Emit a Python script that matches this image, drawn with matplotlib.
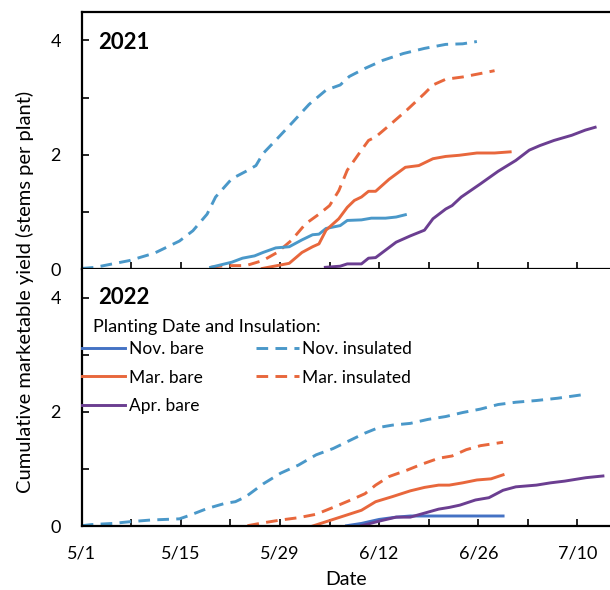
import matplotlib
matplotlib.use("Agg")
import matplotlib.pyplot as plt
from matplotlib.ticker import MultipleLocator, FixedLocator, FixedFormatter
from matplotlib.lines import Line2D

plt.rcParams['font.family'] = ['Lato', 'DejaVu Sans']

# days after May 1, cumulative stems per plant
# 2021
nov_ins_21_x = [0, 1.9, 6.8, 10.3, 13.8, 15.7, 17.7, 18.9, 21.2, 23.2, 24.6, 25.6, 27.6, 29.8,
                32.1, 34.5, 36.5, 37.8, 40.0, 42.5, 45.4, 48.4, 51.4, 53.8, 55.8]
nov_ins_21_y = [0.01, 0.03, 0.15, 0.28, 0.49, 0.67, 0.96, 1.26, 1.58, 1.71, 1.81, 2.02, 2.28, 2.57,
                2.88, 3.13, 3.22, 3.37, 3.51, 3.65, 3.77, 3.86, 3.93, 3.94, 3.98]
mar_ins_21_x = [18.2, 20.2, 23.2, 25.6, 27.6, 29.6, 31.6, 33.5, 35.0, 36.3, 37.5, 39.5, 40.5,
                41.5, 43.4, 45.9, 48.4, 49.6, 51.4, 53.8, 56.3, 58.3]
mar_ins_21_y = [0.03, 0.06, 0.06, 0.15, 0.29, 0.50, 0.79, 0.96, 1.11, 1.37, 1.73, 2.08, 2.25,
                2.31, 2.51, 2.78, 3.07, 3.22, 3.32, 3.36, 3.42, 3.47]
mar_bare_21_x = [25.5, 27.6, 29.3, 31.1, 32.6, 33.5, 34.5, 36.3, 37.5, 38.5, 39.5, 40.5, 41.5,
                 43.4, 45.7, 47.6, 49.6, 51.4, 53.3, 55.8, 58.3, 60.5]
mar_bare_21_y = [0.01, 0.06, 0.10, 0.29, 0.39, 0.44, 0.68, 0.88, 1.08, 1.20, 1.26, 1.36, 1.36,
                 1.57, 1.78, 1.81, 1.93, 1.97, 1.99, 2.03, 2.03, 2.05]
nov_bare_21_x = [18.2, 21.2, 22.7, 24.4, 25.6, 27.4, 29.3, 31.1, 32.6, 33.5, 34.5, 36.5, 37.5,
                 39.5, 40.9, 42.9, 44.4, 45.7]
nov_bare_21_y = [0.03, 0.12, 0.19, 0.23, 0.29, 0.37, 0.39, 0.51, 0.60, 0.61, 0.71, 0.76, 0.85,
                 0.86, 0.89, 0.89, 0.91, 0.95]
apr_bare_21_x = [34.4, 36.5, 37.5, 39.5, 40.5, 41.5, 44.4, 46.4, 48.4, 49.6, 51.4, 52.3, 53.6,
                 56.3, 58.8, 61.3, 63.2, 64.7, 66.7, 69.2, 71.1, 72.5]
apr_bare_21_y = [0.03, 0.05, 0.09, 0.09, 0.19, 0.20, 0.47, 0.58, 0.68, 0.88, 1.05, 1.11, 1.26,
                 1.49, 1.71, 1.90, 2.08, 2.16, 2.25, 2.34, 2.43, 2.48]

# 2022
nov_ins_22_x = [0, 1.4, 4.4, 6.8, 9.8, 11.8, 13.8, 15.2, 17.7, 20.2, 21.7, 23.2, 25.6, 28.1, 30.6,
                33.1, 35.5, 38.0, 40.0, 42.0, 43.9, 46.4, 48.9, 51.4, 53.8, 56.3, 58.8, 61.3,
                64.2, 67.2, 71.2]
nov_ins_22_y = [0.01, 0.03, 0.05, 0.08, 0.11, 0.12, 0.13, 0.19, 0.31, 0.40, 0.43, 0.52, 0.74, 0.93,
                1.07, 1.25, 1.36, 1.51, 1.63, 1.73, 1.77, 1.80, 1.87, 1.92, 1.99, 2.05, 2.13,
                2.17, 2.20, 2.24, 2.31]
mar_ins_22_x = [23.4, 25.6, 28.1, 30.6, 33.1, 35.5, 38.0, 40.0, 41.5, 43.4, 45.9, 47.9, 50.4,
                52.3, 54.3, 56.3, 59.5]
mar_ins_22_y = [0.01, 0.06, 0.11, 0.15, 0.21, 0.33, 0.46, 0.57, 0.72, 0.87, 0.98, 1.08, 1.19,
                1.23, 1.34, 1.41, 1.47]
mar_bare_22_x = [32.5, 34.5, 36.5, 38.0, 39.5, 41.5, 43.9, 46.4, 48.4, 50.4, 51.9, 53.8, 55.8,
                 57.8, 59.5]
mar_bare_22_y = [0.0, 0.08, 0.16, 0.22, 0.28, 0.43, 0.52, 0.62, 0.68, 0.72, 0.72, 0.76, 0.81,
                 0.83, 0.90]
nov_bare_22_x = [37.4, 39.5, 42.0, 44.4, 46.4, 48.9, 53.8, 59.5]
nov_bare_22_y = [0.01, 0.05, 0.12, 0.16, 0.18, 0.18, 0.18, 0.18]
apr_bare_22_x = [39.5, 42.0, 44.4, 46.4, 48.4, 50.4, 51.9, 53.4, 55.6, 57.5, 59.5, 61.3, 64.2,
                 66.2, 68.2, 71.2, 73.6]
apr_bare_22_y = [0.01, 0.09, 0.16, 0.16, 0.23, 0.30, 0.33, 0.37, 0.46, 0.50, 0.63, 0.69, 0.72,
                 0.76, 0.79, 0.85, 0.88]

tick_days = [0, 14, 28, 42, 56, 70]
tick_labels = ['5/1', '5/15', '5/29', '6/12', '6/26', '7/10']

c_blue = '#4472C4'
c_steel = '#4A98C9'
c_orange = '#E8673C'
c_purple = '#6B3E91'
lw = 2.1
dash = (0, (4.0, 2.5))

fig, (ax1, ax2) = plt.subplots(2, 1, figsize=(6.1, 5.9), dpi=100, sharex=True)
fig.subplots_adjust(left=0.134, right=1.0, top=0.98, bottom=0.108, hspace=0)

ax1.plot(nov_ins_21_x, nov_ins_21_y, color=c_steel, lw=lw, linestyle=dash)
ax1.plot(mar_ins_21_x, mar_ins_21_y, color=c_orange, lw=lw, linestyle=dash)
ax1.plot(nov_bare_21_x, nov_bare_21_y, color=c_steel, lw=lw)
ax1.plot(mar_bare_21_x, mar_bare_21_y, color=c_orange, lw=lw)
ax1.plot(apr_bare_21_x, apr_bare_21_y, color=c_purple, lw=lw)

ax2.plot(nov_ins_22_x, nov_ins_22_y, color=c_steel, lw=lw, linestyle=dash)
ax2.plot(mar_ins_22_x, mar_ins_22_y, color=c_orange, lw=lw, linestyle=dash)
ax2.plot(mar_bare_22_x, mar_bare_22_y, color=c_orange, lw=lw)
ax2.plot(nov_bare_22_x, nov_bare_22_y, color=c_blue, lw=lw)
ax2.plot(apr_bare_22_x, apr_bare_22_y, color=c_purple, lw=lw)

for ax in (ax1, ax2):
    ax.set_xlim(0, 74.6)
    ax.set_ylim(0, 4.5)
    ax.yaxis.set_major_locator(FixedLocator([0, 2, 4]))
    ax.yaxis.set_minor_locator(FixedLocator([1, 3]))
    ax.xaxis.set_major_locator(FixedLocator(tick_days))
    ax.xaxis.set_minor_locator(MultipleLocator(7))
    ax.tick_params(which='both', direction='in', length=5, width=1.2, labelsize=13)
    ax.tick_params(axis='y', pad=15)
    ax.spines['right'].set_visible(False)
    for s in ('left', 'bottom', 'top'):
        ax.spines[s].set_linewidth(1.6)
ax1.tick_params(axis='x', which='both', labelbottom=False)
ax2.spines['top'].set_visible(False)
ax2.xaxis.set_major_formatter(FixedFormatter(tick_labels))
ax2.tick_params(axis='x', pad=14)

ax1.text(0.031, 0.88, '2021', transform=ax1.transAxes, fontsize=16, fontweight='bold', va='center')
ax2.text(0.031, 0.89, '2022', transform=ax2.transAxes, fontsize=16, fontweight='bold', va='center')

ax2.set_xlabel('Date', fontsize=14, labelpad=7)
fig.text(0.041, 0.505, 'Cumulative marketable yield (stems per plant)', rotation=90,
         fontsize=14.5, ha='center', va='center')

ax2.text(0.022, 0.775, 'Planting Date and Insulation:', transform=ax2.transAxes,
         fontsize=13, va='center')
handles = [
    Line2D([], [], color=c_blue, lw=lw),
    Line2D([], [], color=c_orange, lw=lw),
    Line2D([], [], color=c_purple, lw=lw),
    Line2D([], [], color=c_steel, lw=lw, linestyle=dash),
    Line2D([], [], color=c_orange, lw=lw, linestyle=dash),
]
labels = ['Nov. bare', 'Mar. bare', 'Apr. bare', 'Nov. insulated', 'Mar. insulated']
ax2.legend(handles, labels, loc='upper left', bbox_to_anchor=(0.0, 0.72), ncol=2,
           frameon=False, fontsize=12.5, borderpad=0, borderaxespad=0, handlelength=2.5,
           handletextpad=0.2, labelspacing=0.72, columnspacing=3.0)

fig.savefig('out.png', dpi=100)
